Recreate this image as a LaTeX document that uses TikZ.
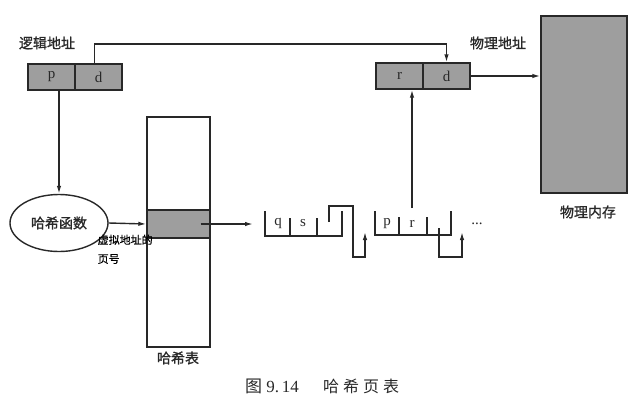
\documentclass[tikz,border=0pt]{standalone}
\usepackage{fontspec}
\newfontfamily\cjk{Noto Sans CJK SC}[FakeBold=1.2]
\newfontfamily\cjkmid{Noto Sans CJK SC}[FakeBold=0.6]
\newfontfamily\cjkthin{Noto Sans CJK SC}
\setmainfont{Liberation Serif}
\usetikzlibrary{arrows.meta,calc,shapes.geometric}
\definecolor{ink}{RGB}{40,40,40}
\definecolor{cellgray}{RGB}{158,158,158}
\begin{document}
\begin{tikzpicture}[x=1pt,y=-1pt,line width=1.4pt,color=ink,
  cell/.style={draw=ink,fill=cellgray,minimum width=47pt,minimum height=26pt,inner sep=0pt,font=\fontsize{15}{15}\selectfont,text=ink},
  lbl/.style={font=\cjk\fontsize{14}{14}\selectfont,text=ink,inner sep=0pt},
  let/.style={font=\fontsize{15}{15}\selectfont,text=ink,inner sep=0pt},
  arr/.style={-{Latex[length=8pt,width=4.5pt]}}]
\useasboundingbox (0,0) rectangle (641,413);
% logical address
\node[lbl] (lal) at (47,43) {逻辑地址};
\node[cell] (lp) at (51.5,77) {p};
\node[cell] (ld) at (98.5,77) {d};
% physical address
\node[lbl] (pal) at (498,43) {物理地址};
\node[cell] (pr) at (399.5,76) {r};
\node[cell] (pd) at (446.5,76) {d};
% physical memory
\node[draw=ink,fill=cellgray,minimum width=86pt,minimum height=177pt,inner sep=0pt] (mem) at (584,104.5) {};
\node[lbl] (meml) at (588,212) {物理内存};
% hash function
\node[draw=ink,ellipse,minimum width=98pt,minimum height=57pt,inner sep=0pt,font=\cjk\fontsize{14}{14}\selectfont,text=ink] (hf) at (59,223) {哈希函数};
% hash table
\node[draw=ink,minimum width=63pt,minimum height=230pt,inner sep=0pt] (ht) at (178.5,232) {};
\node[draw=ink,fill=cellgray,minimum width=63pt,minimum height=28pt,inner sep=0pt] (htc) at (178.5,224) {};
\node[lbl] (htl) at (178,358) {哈希表};
% overlay label
\node[font=\cjkmid\fontsize{11}{19}\selectfont,text=black,align=left,anchor=north west,inner sep=0pt] (vpl) at (97,234) {虚拟地址的\\页号};
% caption
\node[font=\fontsize{17}{17}\selectfont,text=ink,inner sep=0pt] (cap1) at (272,386) {{\cjkthin 图} 9.\,14};
\node[font=\cjkthin\fontsize{16}{16}\selectfont,text=ink,inner sep=0pt] (cap2) at (361,386) {哈\hspace{4pt}希\hspace{4pt}页\hspace{4pt}表};
% chain element 1
\draw (265,211) -- (265,236) -- (342,236) -- (342,211);
\draw (290,218) -- (290,236);
\draw (317,218) -- (317,236);
\node[let] (cq) at (278,223) {q};
\node[let] (cs) at (303,223) {s};
\coordinate (c1in) at (253,224);
\coordinate (c1p) at (329,222);
\coordinate (c2in) at (365,232);
% chain element 2
\draw (375,211) -- (375,235) -- (451,235) -- (451,211);
\draw (399,217) -- (399,235);
\draw (427,217) -- (427,235);
\node[let] (cp) at (387,224) {p};
\node[let] (cr) at (412,224) {r};
\coordinate (c2p) at (439,228);
\coordinate (c3in) at (462,232);
\coordinate (rtop) at (412,208);
\node[let] (dots) at (477,224) {...};
% connectors
\draw[arr] (lp.south -| hf.north) -- (hf.north);
\draw[arr] ($(ld.north)+(-4,0)$) -- ++(0,-19.5) -| (pd.north);
\draw[arr] (pd.east) -- (mem.west |- pd.east);
\draw[arr] (hf.east) -- (htc.west);
\draw[arr] ($(htc.east)+(-10,0)$) -- (c1in);
\draw[arr] (c1p) -- ++(0,-16) -| (353,257) -| (c2in);
\draw[arr] (c2p) -- (439,257) -| (c3in);
\draw[arr] (rtop) -- (rtop |- pr.south);
\end{tikzpicture}
\end{document}
